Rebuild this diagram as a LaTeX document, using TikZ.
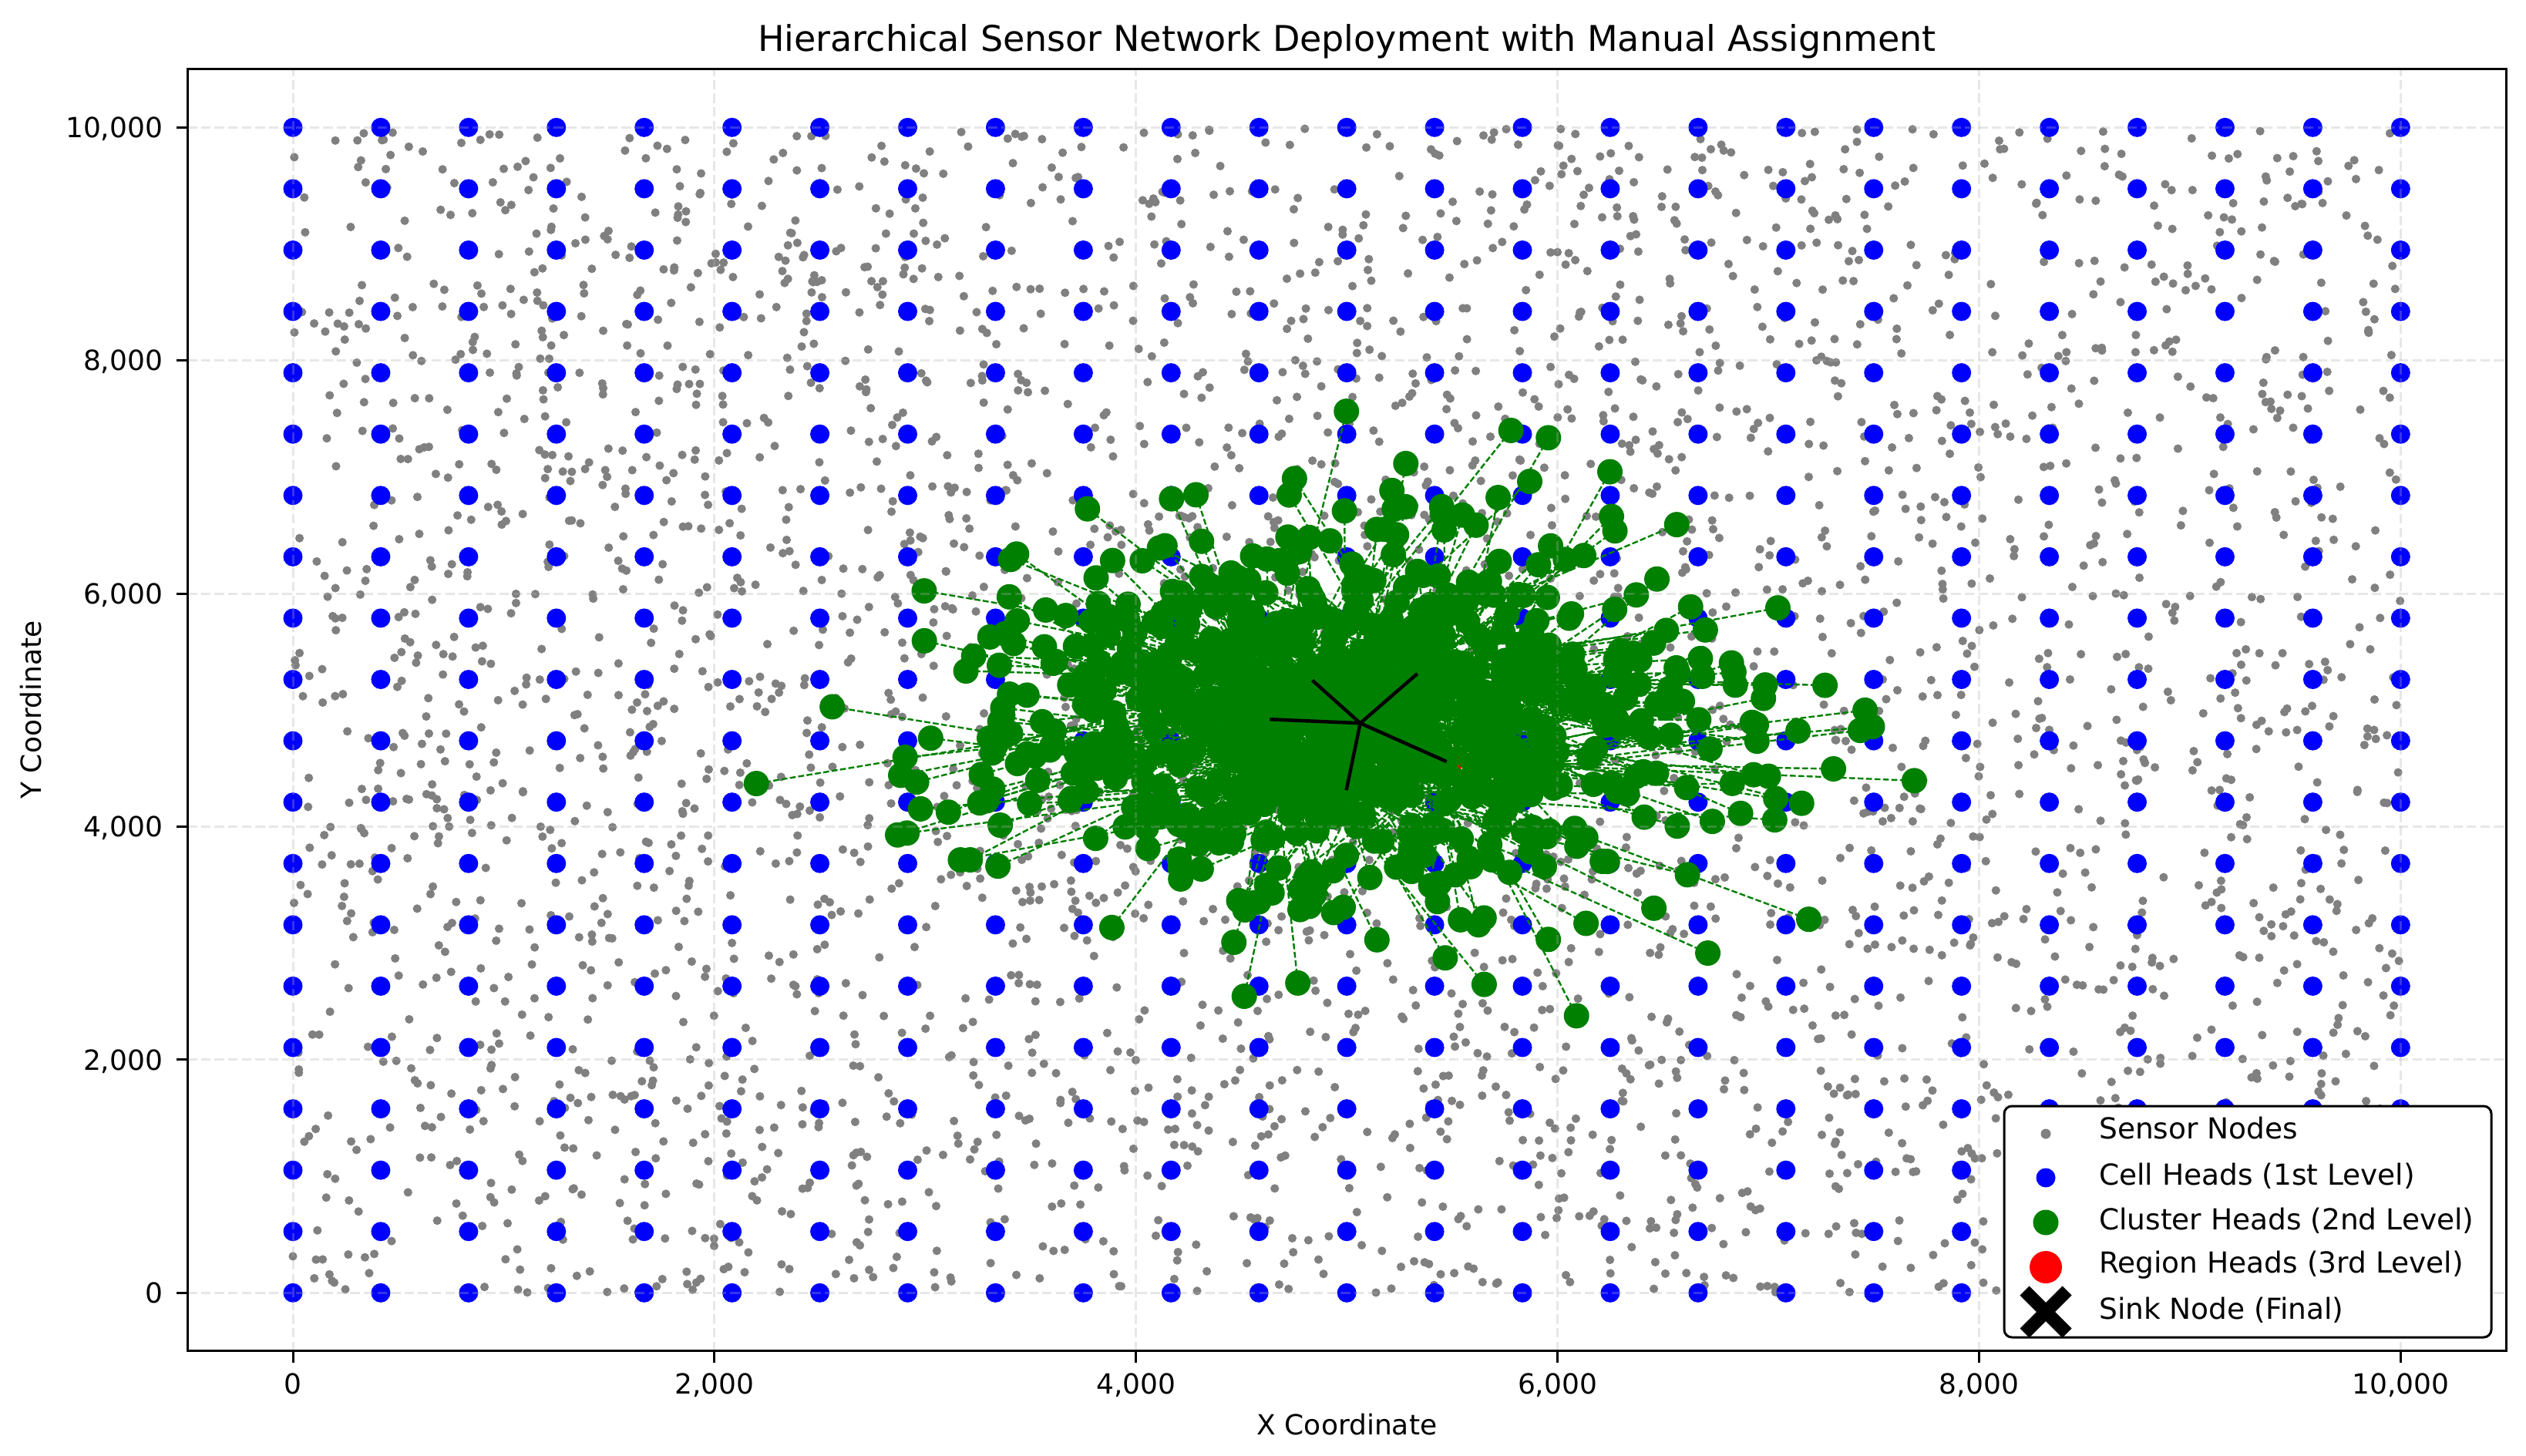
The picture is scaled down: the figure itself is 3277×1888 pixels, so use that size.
\documentclass[tikz,border=0pt]{standalone}
\usepackage{fontspec}
\setmainfont{DejaVu Sans}
\usetikzlibrary{shapes.misc}
\definecolor{mgreen}{RGB}{0,128,0}
\definecolor{mgray}{RGB}{128,128,128}
\definecolor{mblue}{RGB}{0,0,255}
\definecolor{mred}{RGB}{255,0,0}
\definecolor{mgrid}{RGB}{176,176,176}
\begin{document}
\begin{tikzpicture}[x=1pt,y=-1pt,
  lab/.style={font=\fontsize{36}{43}\selectfont, inner sep=0pt},
  leglab/.style={font=\fontsize{37.5}{45}\selectfont, inner sep=0pt, anchor=base west},
  gridline/.style={draw=mgrid, opacity=0.3, line width=3pt, dash pattern=on 12.3pt off 5.3pt},
  assignline/.style={draw=mgreen, line width=2.4pt, dash pattern=on 7.7pt off 3.3pt},
  sinkline/.style={draw=black, line width=4.5pt},
  tickmark/.style={draw=black, line width=3pt},
  spine/.style={draw=black, line width=3pt},
  lgdot/.style={circle, inner sep=0pt, draw=none}
]
\useasboundingbox (0,0) rectangle (3277,1888);
\fill[white] (0,0) rectangle (3277,1888);

\begin{scope}[shift={(380,1677.3)}, x=273.43pt, y=151.2pt]
  % sensor nodes
  \pgfmathsetseed{4242}
  \foreach \i in {1,...,3600}{
    \fill[mgray] ({10*rnd},{10*rnd}) circle[radius=5.6pt];
  }
  % cell heads
  \foreach \c in {0,...,24}{
    \foreach \r in {0,...,19}{
      \fill[mblue] ({\c*10/24},{\r*10/19}) circle[radius=12.5pt];
    }
  }
  % region heads and sink
  \coordinate (R1) at (4.635,4.921);
  \coordinate (R2) at (4.837,5.255);
  \coordinate (R3) at (5.335,5.313);
  \coordinate (R4) at (5.474,4.558);
  \coordinate (R5) at (4.998,4.313);
  \coordinate (S) at (5.064,4.888);
  \foreach \k in {1,...,5}{\fill[mred] (R\k) circle[radius=21pt];}
  \node[cross out, draw=black, line width=16pt, minimum size=42pt, inner sep=0pt] (sink) at (S) {};
  % cluster heads
  \pgfmathsetseed{917}
  \foreach \i in {1,...,850}{
    \pgfmathsetmacro\ru{sqrt(-2*ln(0.002+0.998*rnd))}
    \pgfmathsetmacro\th{360*rnd}
    \pgfmathsetmacro\gx{5.0+0.88*\ru*cos(\th)}
    \pgfmathsetmacro\gy{5.0+0.82*\ru*sin(\th)}
    \fill[mgreen] (\gx,\gy) coordinate (G\i) circle[radius=16.5pt];
  }
  % grid
  \foreach \v in {0,2,...,10}{
    \draw[gridline] (\v,-0.5) -- (\v,10.5);
    \draw[gridline] (-0.5,\v) -- (10.5,\v);
  }
  % assignment lines
  \foreach \i in {1,...,850}{
    \pgfmathtruncatemacro\k{mod(\i,5)+1}
    \draw[assignline] (G\i) -- (R\k);
  }
  \foreach \k in {1,...,5}{\draw[sinkline] (S) -- (R\k);}
  % spines
  \draw[spine] (-0.5,-0.5) rectangle (10.5,10.5);
  % ticks
  \foreach \v/\t in {0/0,2/{2,000},4/{4,000},6/{6,000},8/{8,000},10/{10,000}}{
    \draw[tickmark] (\v,-0.5) -- ++(0pt,-14.6pt);
    \node[lab, anchor=north, yshift=-29pt] (xt\v) at (\v,-0.5) {\t};
    \draw[tickmark] (-0.5,\v) -- ++(-14.6pt,0pt);
    \node[lab, anchor=base east, xshift=-32pt, yshift=-13.1pt] (yt\v) at (-0.5,\v) {\t};
  }
\end{scope}

\node[anchor=base, inner sep=0pt, font=\fontsize{46}{55}\selectfont] (title) at (1747.5,66) {Hierarchical Sensor Network Deployment with Manual Assignment};
\node[lab, anchor=base] (xlabel) at (1747.5,1861) {X Coordinate};
\node[lab, anchor=base, rotate=90] (ylabel) at (53,921) {Y Coordinate};

% legend
\node[draw=black, line width=3pt, fill=white, rounded corners=10pt, minimum width=632pt, minimum height=300pt, inner sep=0pt] (legend) at (2916,1585) {};
\node[lgdot, fill=mgray, minimum size=13pt] (lm1) at (2654,1471) {};
\node[lgdot, fill=mblue, minimum size=25pt] (lm2) at (2654,1528) {};
\node[lgdot, fill=mgreen, minimum size=33pt] (lm3) at (2654,1586) {};
\node[lgdot, fill=mred, minimum size=42pt] (lm4) at (2654,1644) {};
\node[cross out, draw=black, line width=17pt, minimum size=38pt, inner sep=0pt] (lm5) at (2654,1702) {};
\node[leglab] (lt1) at (2723,1477) {Sensor Nodes};
\node[leglab] (lt2) at (2723,1537) {Cell Heads (1st Level)};
\node[leglab] (lt3) at (2723,1595) {Cluster Heads (2nd Level)};
\node[leglab] (lt4) at (2723,1651) {Region Heads (3rd Level)};
\node[leglab] (lt5) at (2723,1711) {Sink Node (Final)};
\end{tikzpicture}
\end{document}
